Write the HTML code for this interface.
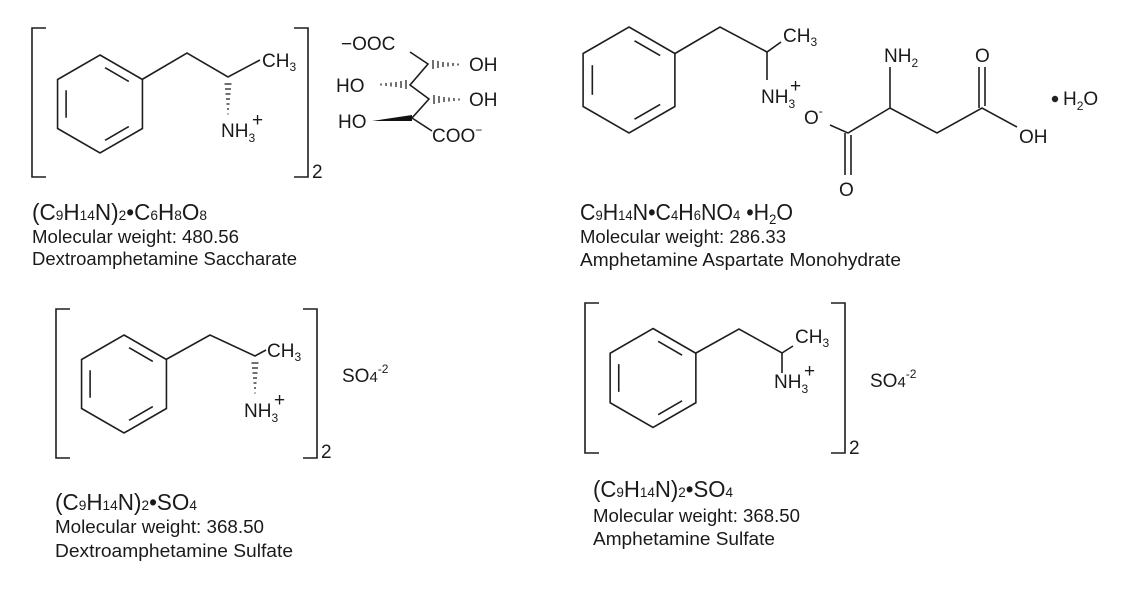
<!DOCTYPE html>
<html><head><meta charset="utf-8"><style>
html,body{margin:0;padding:0;background:#fff;}
svg{display:block;font-family:"Liberation Sans",Arial,sans-serif;}
.b{stroke:#1e1e1e;stroke-width:1.6;fill:none;}
.l{fill:#1a1a1a;font-size:19px;}
.s{font-size:12px;}
.t{fill:#1a1a1a;font-size:18px;}
.f{fill:#1a1a1a;font-size:23px;}
.fs{font-size:14px;}
</style></head><body>
<svg width="1124" height="594" viewBox="0 0 1124 594" xmlns="http://www.w3.org/2000/svg">
<defs>
<g id="bz">
<polygon points="0,-50 43.3,-25 43.3,25 0,50 -43.3,25 -43.3,-25" class="b" vector-effect="non-scaling-stroke"/>
<line x1="5.2" y1="-37" x2="29.4" y2="-23" class="b" vector-effect="non-scaling-stroke"/>
<line x1="-34.6" y1="-14" x2="-34.6" y2="14" class="b" vector-effect="non-scaling-stroke"/>
<line x1="29.4" y1="23" x2="5.2" y2="37" class="b" vector-effect="non-scaling-stroke"/>
</g>
</defs>

<!-- Top-left -->
<polyline points="46,28 32,28 32,177 46,177" class="b"/>
<polyline points="294,28 308,28 308,177 294,177" class="b"/>
<text x="312" y="178" class="l">2</text>
<use href="#bz" transform="translate(100,104) scale(0.98)"/>
<polyline points="142,79.5 187,53 228,77 260,60" class="b"/>
<g stroke="#222" stroke-width="1.3">
<line x1="224.5" y1="84" x2="231.5" y2="84"/>
<line x1="225" y1="89" x2="231" y2="89"/>
<line x1="225.5" y1="94" x2="230.5" y2="94"/>
<line x1="226" y1="99" x2="230" y2="99"/>
<line x1="226.5" y1="104" x2="229.5" y2="104"/>
<line x1="227" y1="109" x2="229" y2="109"/>
<line x1="227.5" y1="114" x2="228.5" y2="114"/>
</g>
<text x="262" y="67" class="l">CH<tspan class="s" dy="4">3</tspan></text>
<text x="221" y="137" class="l">NH<tspan class="s" dy="5">3</tspan></text>
<text x="252" y="126" class="l" font-size="16">+</text>

<text x="341" y="50" class="l">−OOC</text>
<polyline points="410,52 428,64 410,85 429,99 412,118 432,131" class="b"/>
<g stroke="#222" stroke-width="1.3">
<line x1="433" y1="60" x2="433" y2="69"/><line x1="438" y1="61" x2="438" y2="68"/><line x1="443" y1="62" x2="443" y2="67"/><line x1="448" y1="62.5" x2="448" y2="66.5"/><line x1="453" y1="63" x2="453" y2="66"/><line x1="458" y1="63.5" x2="458" y2="65.5"/>
<line x1="406" y1="80" x2="406" y2="89"/><line x1="401" y1="81" x2="401" y2="88"/><line x1="396" y1="82" x2="396" y2="87"/><line x1="391" y1="82.5" x2="391" y2="86.5"/><line x1="386" y1="83" x2="386" y2="86"/><line x1="381" y1="83.5" x2="381" y2="85.5"/>
<line x1="434" y1="95" x2="434" y2="104"/><line x1="439" y1="96" x2="439" y2="103"/><line x1="444" y1="97" x2="444" y2="102"/><line x1="449" y1="97.5" x2="449" y2="101.5"/><line x1="454" y1="98" x2="454" y2="101"/><line x1="459" y1="98.5" x2="459" y2="100.5"/>
</g>
<polygon points="372,121 412,115 412,121" fill="#111"/>
<text x="469" y="71" class="l">OH</text>
<text x="336" y="92" class="l">HO</text>
<text x="469" y="106" class="l">OH</text>
<text x="338" y="128" class="l">HO</text>
<text x="432" y="142" class="l">COO<tspan class="s" dy="-8">−</tspan></text>

<text x="32" y="220" class="f" textLength="175" lengthAdjust="spacingAndGlyphs">(C<tspan class="fs">9</tspan>H<tspan class="fs">14</tspan>N)<tspan class="fs">2</tspan>•C<tspan class="fs">6</tspan>H<tspan class="fs">8</tspan>O<tspan class="fs">8</tspan></text>
<text x="32" y="243" class="t" textLength="207" lengthAdjust="spacingAndGlyphs">Molecular weight: 480.56</text>
<text x="32" y="265" class="t" textLength="265" lengthAdjust="spacingAndGlyphs">Dextroamphetamine Saccharate</text>

<!-- Top-right -->
<use href="#bz" transform="translate(629,80) scale(1.06)"/>
<polyline points="675,53.5 720,27 767,52 781,42" class="b"/>
<line x1="767" y1="52" x2="767" y2="80" class="b"/>
<text x="783" y="42" class="l">CH<tspan class="s" dy="4">3</tspan></text>
<text x="761" y="103" class="l">NH<tspan class="s" dy="5">3</tspan></text>
<text x="790" y="92" class="l" font-size="16">+</text>
<text x="804" y="124" class="l">O<tspan class="s" dy="-9">-</tspan></text>
<polyline points="830,125 848,133 890,108 937,133 982,108 1017,127" class="b"/>
<line x1="845" y1="133" x2="845" y2="175" class="b"/>
<line x1="851" y1="135" x2="851" y2="175" class="b"/>
<line x1="890" y1="108" x2="890" y2="67" class="b"/>
<line x1="979" y1="108" x2="979" y2="67" class="b"/>
<line x1="985" y1="106" x2="985" y2="67" class="b"/>
<text x="839" y="196" class="l">O</text>
<text x="975" y="62" class="l">O</text>
<text x="884" y="62" class="l">NH<tspan class="s" dy="5">2</tspan></text>
<text x="1019" y="143" class="l">OH</text>
<circle cx="1055" cy="99" r="3.2" fill="#222"/>
<text x="1063" y="105" class="l">H<tspan class="s" dy="5">2</tspan><tspan dy="-5">O</tspan></text>

<text x="580" y="220" class="f" textLength="213" lengthAdjust="spacingAndGlyphs">C<tspan class="fs">9</tspan>H<tspan class="fs">14</tspan>N•C<tspan class="fs">4</tspan>H<tspan class="fs">6</tspan>NO<tspan class="fs">4</tspan> •H<tspan class="fs" dy="4">2</tspan><tspan dy="-4">O</tspan></text>
<text x="580" y="243" class="t" textLength="206" lengthAdjust="spacingAndGlyphs">Molecular weight: 286.33</text>
<text x="580" y="266" class="t" textLength="321" lengthAdjust="spacingAndGlyphs">Amphetamine Aspartate Monohydrate</text>

<!-- Bottom-left -->
<polyline points="70,309 56,309 56,458 70,458" class="b"/>
<polyline points="303,309 317,309 317,458 303,458" class="b"/>
<text x="321" y="458" class="l">2</text>
<use href="#bz" transform="translate(124,384) scale(0.98)"/>
<polyline points="166,359.5 210,335 255,356 266,350" class="b"/>
<g stroke="#222" stroke-width="1.3">
<line x1="251.5" y1="363" x2="258.5" y2="363"/>
<line x1="252" y1="368" x2="258" y2="368"/>
<line x1="252.5" y1="373" x2="257.5" y2="373"/>
<line x1="253" y1="378" x2="257" y2="378"/>
<line x1="253.5" y1="383" x2="256.5" y2="383"/>
<line x1="254" y1="388" x2="256" y2="388"/>
<line x1="254.5" y1="393" x2="255.5" y2="393"/>
</g>
<text x="267" y="357" class="l">CH<tspan class="s" dy="4">3</tspan></text>
<text x="244" y="417" class="l">NH<tspan class="s" dy="5">3</tspan></text>
<text x="274" y="406" class="l" font-size="16">+</text>
<text x="342" y="382" class="l" font-size="18">SO<tspan font-size="15">4</tspan><tspan class="s" dy="-9">-2</tspan></text>

<text x="55" y="510" class="f" textLength="142" lengthAdjust="spacingAndGlyphs">(C<tspan class="fs">9</tspan>H<tspan class="fs">14</tspan>N)<tspan class="fs">2</tspan>•SO<tspan class="fs">4</tspan></text>
<text x="55" y="533" class="t" textLength="209" lengthAdjust="spacingAndGlyphs">Molecular weight: 368.50</text>
<text x="55" y="557" class="t" textLength="238" lengthAdjust="spacingAndGlyphs">Dextroamphetamine Sulfate</text>

<!-- Bottom-right -->
<polyline points="599,303 585,303 585,453 599,453" class="b"/>
<polyline points="831,303 845,303 845,453 831,453" class="b"/>
<text x="849" y="454" class="l">2</text>
<use href="#bz" transform="translate(653,378) scale(0.99)"/>
<polyline points="696,353 739,329 782,353 793,346" class="b"/>
<line x1="782" y1="353" x2="782" y2="373" class="b"/>
<text x="795" y="343" class="l">CH<tspan class="s" dy="4">3</tspan></text>
<text x="774" y="388" class="l">NH<tspan class="s" dy="5">3</tspan></text>
<text x="804" y="377" class="l" font-size="16">+</text>
<text x="870" y="387" class="l" font-size="18">SO<tspan font-size="15">4</tspan><tspan class="s" dy="-9">-2</tspan></text>

<text x="593" y="497" class="f" textLength="140" lengthAdjust="spacingAndGlyphs">(C<tspan class="fs">9</tspan>H<tspan class="fs">14</tspan>N)<tspan class="fs">2</tspan>•SO<tspan class="fs">4</tspan></text>
<text x="593" y="522" class="t" textLength="207" lengthAdjust="spacingAndGlyphs">Molecular weight: 368.50</text>
<text x="593" y="545" class="t" textLength="182" lengthAdjust="spacingAndGlyphs">Amphetamine Sulfate</text>
</svg>
</body></html>
